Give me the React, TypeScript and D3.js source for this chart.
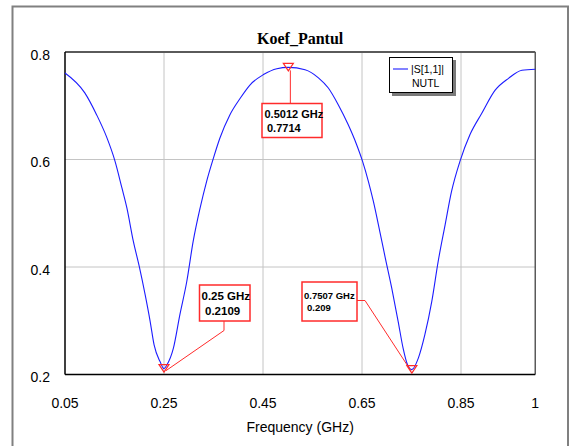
import * as d3 from 'd3';

// data
const FREQ = [
  0.05, 0.09, 0.114, 0.134, 0.151, 0.165, 0.175, 0.188, 0.2, 0.212, 0.222, 0.23, 0.242,
  0.25, 0.256, 0.269, 0.282, 0.296, 0.309, 0.323, 0.336, 0.35, 0.363, 0.383, 0.404, 0.424,
  0.451, 0.478, 0.5012, 0.535, 0.562, 0.582, 0.602, 0.622, 0.639, 0.651, 0.663, 0.673, 0.686,
  0.697, 0.71, 0.723, 0.733, 0.742, 0.7507, 0.764, 0.777, 0.791, 0.804, 0.818, 0.831, 0.848,
  0.868, 0.892, 0.919, 0.946, 0.973, 1.0,
];
const S11 = [
  0.761, 0.724, 0.683, 0.642, 0.597, 0.547, 0.51, 0.448, 0.401, 0.348, 0.299, 0.255, 0.224,
  0.2109, 0.218, 0.249, 0.311, 0.373, 0.448, 0.51, 0.559, 0.603, 0.64, 0.683, 0.714, 0.739,
  0.758, 0.769, 0.7714, 0.767, 0.752, 0.733, 0.702, 0.665, 0.628, 0.597, 0.559, 0.522, 0.466,
  0.417, 0.361, 0.299, 0.249, 0.218, 0.209, 0.231, 0.274, 0.336, 0.411, 0.479, 0.541, 0.597,
  0.646, 0.686, 0.729, 0.751, 0.766, 0.768,
];
const X_TICKS = [0.05, 0.25, 0.45, 0.65, 0.85, 1];
const Y_TICKS = [0.2, 0.4, 0.6, 0.8];
const MARKER_FREQ = [0.5012, 0.25, 0.7507];
const MARKER_VAL = [0.7714, 0.2109, 0.209];
const MARKER_TEXT = [
  ['0.5012 GHz', '0.7714'],
  ['0.25 GHz', '0.2109'],
  ['0.7507 GHz', '0.209'],
];

const W = 570;
const H = 446;
const PLOT = { LEFT: 65, RIGHT: 535.25, TOP: 52, BOTTOM: 374.5 };
const SANS = '"Liberation Sans", Arial, sans-serif';
const RED = '#ff2b2b';

export default function App() {
  const x = d3.scaleLinear().domain([0.05, 1]).range([PLOT.LEFT, PLOT.RIGHT]);
  const y = d3.scaleLinear().domain([0.2, 0.8]).range([PLOT.BOTTOM, PLOT.TOP]);

  const points: [number, number][] = FREQ.map((f, i) => [f, S11[i]]);
  const line = d3
    .line<[number, number]>()
    .x((d) => x(d[0]))
    .y((d) => y(d[1]))
    .curve(d3.curveMonotoneX);

  const tri = (i: number) => {
    const cx = x(MARKER_FREQ[i]);
    const cy = y(MARKER_VAL[i]);
    return `M${cx - 5},${cy - 4}L${cx + 5},${cy - 4}L${cx},${cy + 3.5}Z`;
  };

  const m1x = x(MARKER_FREQ[0]);
  const m1y = y(MARKER_VAL[0]);
  const m2x = x(MARKER_FREQ[1]);
  const m2y = y(MARKER_VAL[1]);
  const m3x = x(MARKER_FREQ[2]);
  const m3y = y(MARKER_VAL[2]);

  return (
    <svg
      width={W}
      height={H}
      style={{ position: 'absolute', left: 0, top: 0, background: '#fff' }}
    >
      <rect x={12.5} y={6.5} width={555.5} height={450} fill="#fff" stroke="#808080" strokeWidth={2} />

      <text
        x={(PLOT.LEFT + PLOT.RIGHT) / 2}
        y={44}
        textAnchor="middle"
        fontFamily='"Liberation Serif", "Times New Roman", serif'
        fontWeight="bold"
        fontSize={16}
      >
        Koef_Pantul
      </text>

      {/* grid */}
      {X_TICKS.filter((t) => t > 0.05 && t < 1).map((t) => (
        <line key={'gx' + t} x1={x(t)} x2={x(t)} y1={PLOT.TOP} y2={PLOT.BOTTOM} stroke="#c4c4c4" strokeWidth={1} />
      ))}
      {Y_TICKS.filter((t) => t > 0.2 && t < 0.8).map((t) => (
        <line key={'gy' + t} x1={PLOT.LEFT} x2={PLOT.RIGHT} y1={y(t)} y2={y(t)} stroke="#c4c4c4" strokeWidth={1} />
      ))}

      {/* frame */}
      <line x1={PLOT.LEFT} x2={PLOT.RIGHT} y1={PLOT.TOP} y2={PLOT.TOP} stroke="#5a5a5a" strokeWidth={2} />
      <line x1={PLOT.RIGHT} x2={PLOT.RIGHT} y1={PLOT.TOP} y2={PLOT.BOTTOM} stroke="#5a5a5a" strokeWidth={1.5} />
      <line x1={PLOT.LEFT} x2={PLOT.LEFT} y1={PLOT.TOP} y2={PLOT.BOTTOM} stroke="#000" strokeWidth={1.5} />
      <line x1={PLOT.LEFT} x2={PLOT.RIGHT} y1={PLOT.BOTTOM} y2={PLOT.BOTTOM} stroke="#000" strokeWidth={1.5} />

      {/* tick labels */}
      {Y_TICKS.map((t) => (
        <text key={'ty' + t} x={50} y={y(t) + 3} dy="0.35em" textAnchor="end" fontFamily={SANS} fontSize={14}>
          {t.toFixed(1)}
        </text>
      ))}
      {X_TICKS.map((t) => (
        <text key={'tx' + t} x={x(t)} y={407.5} textAnchor="middle" fontFamily={SANS} fontSize={14}>
          {String(t)}
        </text>
      ))}
      <text x={(PLOT.LEFT + PLOT.RIGHT) / 2} y={432} textAnchor="middle" fontFamily={SANS} fontSize={14}>
        Frequency (GHz)
      </text>

      {/* curve */}
      <path d={line(points) ?? ''} fill="none" stroke="#1c1cff" strokeWidth={1.1} />

      {/* legend */}
      <rect x={392} y={60} width={64} height={36} fill="#7a7a7a" />
      <rect x={389.5} y={57.5} width={63} height={35} fill="#fff" stroke="#000" strokeWidth={1} />
      <line x1={393} x2={408} y1={69} y2={69} stroke="#1c1cff" strokeWidth={1.1} />
      <text x={411} y={73} fontFamily={SANS} fontSize={10.5}>|S[1,1]|</text>
      <text x={412} y={87} fontFamily={SANS} fontSize={10.5}>NUTL</text>

      {/* marker 1 */}
      <line x1={m1x + 2} x2={m1x + 2} y1={m1y + 3} y2={103} stroke={RED} strokeWidth={1} />
      <rect x={262} y={103.5} width={60} height={34} fill="#fff" stroke={RED} strokeWidth={1.5} />
      <text x={264.5} y={118} fontFamily={SANS} fontWeight="bold" fontSize={11}>{MARKER_TEXT[0][0]}</text>
      <text x={267} y={132} fontFamily={SANS} fontWeight="bold" fontSize={11}>{MARKER_TEXT[0][1]}</text>

      {/* marker 2 */}
      <polyline
        points={`${224},${321} ${224},${330.5} ${m2x + 2},${m2y + 2}`}
        fill="none"
        stroke={RED}
        strokeWidth={1}
      />
      <rect x={199.5} y={285} width={50.5} height={36} fill="#fff" stroke={RED} strokeWidth={1.5} />
      <text x={201.5} y={300} fontFamily={SANS} fontWeight="bold" fontSize={11.5}>{MARKER_TEXT[1][0]}</text>
      <text x={205} y={315} fontFamily={SANS} fontWeight="bold" fontSize={11.5}>{MARKER_TEXT[1][1]}</text>

      {/* marker 3 */}
      <polyline
        points={`${357},${300.5} ${365},${300.5} ${m3x - 1},${m3y + 1}`}
        fill="none"
        stroke={RED}
        strokeWidth={1}
      />
      <rect x={302} y={282} width={55} height={39} fill="#fff" stroke={RED} strokeWidth={1.5} />
      <text x={304} y={299} fontFamily={SANS} fontWeight="bold" fontSize={9.5}>{MARKER_TEXT[2][0]}</text>
      <text x={307} y={311} fontFamily={SANS} fontWeight="bold" fontSize={9.5}>{MARKER_TEXT[2][1]}</text>

      {MARKER_FREQ.map((f, i) => (
        <path key={'m' + f} d={tri(i)} fill="none" stroke={RED} strokeWidth={1.2} />
      ))}
    </svg>
  );
}
